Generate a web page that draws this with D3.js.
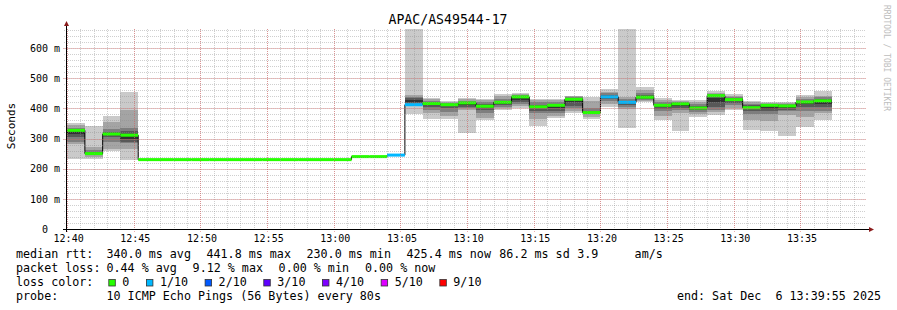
<!DOCTYPE html>
<html><head><meta charset="utf-8">
<script src="https://cdn.jsdelivr.net/npm/d3@7"></script>
<style>
body{margin:0;background:#fff}
svg{display:block}
text{font-family:"DejaVu Sans Mono",monospace;white-space:pre;fill:#000}
</style>
</head><body>
<svg id="chart" width="897" height="310"></svg>
<script>
// ---------------- data ----------------
const title = "APAC/AS49544-17";
const rangeStart = "12:39:55";
const rangeEnd = "13:39:55";
const stepSeconds = 80;
const barStarts = ["12:38:40","12:40:00","12:41:20","12:42:40","12:44:00","12:45:20","12:46:40","12:48:00",
  "12:49:20","12:50:40","12:52:00","12:53:20","12:54:40","12:56:00","12:57:20","12:58:40","13:00:00",
  "13:01:20","13:02:40","13:04:00","13:05:20","13:06:40","13:08:00","13:09:20","13:10:40","13:12:00",
  "13:13:20","13:14:40","13:16:00","13:17:20","13:18:40","13:20:00","13:21:20","13:22:40","13:24:00",
  "13:25:20","13:26:40","13:28:00","13:29:20","13:30:40","13:32:00","13:33:20","13:34:40","13:36:00"];
const medians = [317, 327, 250, 315, 311,
  230, 230, 230, 230, 230, 230, 230, 230, 230, 230, 230, 230,
  240, 240, 245,
  412, 416, 412, 418, 407, 420, 438, 405, 410, 430, 386, 438, 420, 437, 410, 415, 401, 442, 429, 402, 410, 408, 421, 425];
const lostPings = [0, 0, 0, 0, 0,
  0, 0, 0, 0, 0, 0, 0, 0, 0, 0, 0, 0,
  0, 0, 1,
  1, 0, 0, 0, 0, 0, 0, 0, 0, 0, 0, 1, 1, 0, 0, 0, 0, 0, 0, 0, 0, 0, 0, 0];
const pings = [
  [300,308,312,315,317,318,322,328,338,348],
  [233,283,290,305,315,327,330,335,344,352],
  [233,239,245,248,250,251,255,262,272,342],
  [258,266,290,305,313,316,322,333,355,374],
  [229,266,285,290,300,311,325,335,394,455],
  null, null, null, null, null, null, null, null, null, null, null, null,
  null, null, null,
  [380,410,415,418,420,428,433,436,443,760],
  [366,383,395,405,410,416,420,425,430,433],
  [364,375,388,400,408,413,415,418,422,425],
  [319,393,400,405,410,418,420,425,430,433],
  [361,368,385,395,403,408,413,420,428,432],
  [393,400,405,410,415,420,425,432,440,446],
  [401,408,415,420,428,436,440,444,448,452],
  [342,366,383,392,400,405,412,420,428,432],
  [368,375,385,392,400,410,415,422,428,432],
  [383,390,400,408,420,430,433,436,440,442],
  [363,372,380,383,385,388,392,400,425,438],
  [405,415,425,432,436,440,445,450,455,463],
  [336,398,405,412,418,420,425,432,438,760],
  [420,424,428,432,435,438,445,452,460,471],
  [360,375,390,398,405,410,415,420,428,434],
  [325,386,395,402,408,414,418,422,425,428],
  [370,380,388,395,400,402,408,415,420,427],
  [378,388,395,405,420,435,442,446,450,458],
  [394,400,410,418,425,430,433,437,442,447],
  [327,361,380,392,398,403,410,415,420,425],
  [326,358,380,390,398,408,412,415,418,422],
  [307,378,390,396,402,407,411,414,417,420],
  [339,372,392,405,413,420,425,432,438,444],
  [360,383,392,405,415,425,430,436,441,457]
];
const yMax = 663;
const yTicks = [0, 100, 200, 300, 400, 500, 600];
const yTickLabels = ["0  ", "100 m", "200 m", "300 m", "400 m", "500 m", "600 m"];
const xTickLabels = ["12:40","12:45","12:50","12:55","13:00","13:05","13:10","13:15","13:20","13:25","13:30","13:35"];
const yLabel = "Seconds";
const lossLegend = ["0", "1/10", "2/10", "3/10", "4/10", "5/10", "9/10"];
const lossColors = ["#26ff00", "#00b8ff", "#0059ff", "#5e00ff", "#7e00ff", "#dd00ff", "#ff0000"];
const rttStats = ["340.0 ms avg", "441.8 ms max", "230.0 ms min", "425.4 ms now", "86.2 ms sd", "3.9", "am/s"];
const lossStats = ["0.44 % avg", "9.12 % max", "0.00 % min", "0.00 % now"];
const probeText = "10 ICMP Echo Pings (56 Bytes) every 80s";
const endText = "end: Sat Dec  6 13:39:55 2025";
const watermark = "RRDTOOL / TOBI OETIKER";

// ---------------- layout ----------------
const svg = d3.select("#chart");
const parse = d3.timeParse("%H:%M:%S");
const plot = {left: 66, right: 866, top: 29, bottom: 229};
const x = d3.scaleTime().domain([parse(rangeStart), parse(rangeEnd)]).range([plot.left, plot.right]);
const y = d3.scaleLinear().domain([0, yMax]).range([plot.bottom, plot.top]);
const smokeGrays = ["#cacaca", "#a4a4a4", "#7e7e7e", "#585858", "#323232"];

svg.append("rect").attr("width", 897).attr("height", 310).attr("fill", "#fff");

svg.append("defs").append("clipPath").attr("id", "clip")
  .append("rect").attr("x", plot.left).attr("y", plot.top)
  .attr("width", plot.right - plot.left).attr("height", plot.bottom - plot.top);

const bars = barStarts.map((s, i) => {
  const t0 = parse(s);
  const t1 = new Date(t0.getTime() + stepSeconds * 1000);
  return {t0, t1, median: medians[i], loss: lostPings[i], pings: pings[i]};
});

const g = svg.append("g").attr("clip-path", "url(#clip)");

// smoke
bars.forEach(b => {
  if (!b.pings) return;
  const p = b.pings, n = p.length;
  for (let k = 0; k < n / 2; k++) {
    const lo = p[k], hi = p[n - 1 - k];
    g.append("rect")
      .attr("x", x(b.t0)).attr("width", x(b.t1) - x(b.t0))
      .attr("y", y(hi)).attr("height", Math.max(0, y(lo) - y(hi)))
      .attr("fill", smokeGrays[k]).attr("shape-rendering", "crispEdges");
  }
});

// median connecting line
const stepPts = bars.map(b => [b.t0, b.median]);
stepPts.push([bars[bars.length - 1].t1, bars[bars.length - 1].median]);
g.append("path")
  .attr("d", d3.line().x(d => x(d[0])).y(d => y(d[1])).curve(d3.curveStepAfter)(stepPts))
  .attr("fill", "none").attr("stroke", "#000").attr("stroke-width", 1);

// median bands coloured by loss
g.selectAll("rect.med").data(bars).join("rect").attr("class", "med")
  .attr("x", d => x(d.t0)).attr("width", d => x(d.t1) - x(d.t0))
  .attr("y", d => y(d.median) - 1.5).attr("height", 3)
  .attr("fill", d => lossColors[d.loss]);

// grid (drawn above data, as rrdtool does)
const grid = svg.append("g");
const minorMinutes = d3.timeMinute.range(parse("12:40:00"), parse(rangeEnd));
const majorTimes = xTickLabels.map(l => parse(l + ":00"));
grid.selectAll("line.vmin").data(minorMinutes).join("line")
  .attr("x1", d => Math.round(x(d)) + 0.5).attr("x2", d => Math.round(x(d)) + 0.5)
  .attr("y1", plot.top).attr("y2", plot.bottom + 2)
  .attr("stroke", "rgba(140,140,140,0.42)").attr("stroke-dasharray", "1,1");
const minorY = d3.range(20, yMax, 20);
grid.selectAll("line.hmin").data(minorY).join("line")
  .attr("x1", plot.left - 2).attr("x2", plot.right)
  .attr("y1", d => Math.round(y(d)) + 0.5).attr("y2", d => Math.round(y(d)) + 0.5)
  .attr("stroke", "rgba(140,140,140,0.42)").attr("stroke-dasharray", "1,1");
grid.selectAll("line.vmaj").data(majorTimes).join("line")
  .attr("x1", d => Math.round(x(d)) + 0.5).attr("x2", d => Math.round(x(d)) + 0.5)
  .attr("y1", plot.top).attr("y2", plot.bottom + 3)
  .attr("stroke", "rgba(228,90,90,0.5)").attr("stroke-dasharray", "1,1");
grid.selectAll("line.hmaj").data(yTicks.filter(v => v > 0)).join("line")
  .attr("x1", plot.left - 3).attr("x2", plot.right)
  .attr("y1", d => Math.round(y(d)) + 0.5).attr("y2", d => Math.round(y(d)) + 0.5)
  .attr("stroke", "rgba(228,90,90,0.5)").attr("stroke-dasharray", "1,1");

// axes lines + arrows
const arrowCol = "#8b1c1c";
svg.append("line").attr("x1", plot.left - 3).attr("x2", plot.right + 3)
  .attr("y1", plot.bottom + 0.5).attr("y2", plot.bottom + 0.5).attr("stroke", "#000");
svg.append("line").attr("x1", plot.left + 0.5).attr("x2", plot.left + 0.5)
  .attr("y1", plot.bottom + 3).attr("y2", plot.top - 3).attr("stroke", "#000");
svg.append("path").attr("d", `M${plot.left - 2},${plot.top - 3} L${plot.left + 3},${plot.top - 3} L${plot.left + 0.5},${plot.top - 8} Z`).attr("fill", arrowCol);
svg.append("path").attr("d", `M${plot.right + 3},${plot.bottom - 2} L${plot.right + 3},${plot.bottom + 3} L${plot.right + 8},${plot.bottom + 0.5} Z`).attr("fill", arrowCol);

// axis labels via d3 axes
const yAxis = d3.axisLeft(y).tickValues(yTicks).tickFormat((d, i) => yTickLabels[i]).tickSize(0).tickPadding(6);
const ya = svg.append("g").attr("transform", `translate(${plot.left},0)`).call(yAxis);
ya.select(".domain").remove();
ya.selectAll("text").attr("font-size", "10px").attr("font-family", "DejaVu Sans Mono").attr("fill", "#000");

const xAxis = d3.axisBottom(x).tickValues(majorTimes).tickFormat((d, i) => xTickLabels[i]).tickSize(0).tickPadding(5.5);
const xa = svg.append("g").attr("transform", `translate(1,${plot.bottom})`).call(xAxis);
xa.select(".domain").remove();
xa.selectAll("text").attr("font-size", "10px").attr("font-family", "DejaVu Sans Mono").attr("fill", "#000");

// title, y label, watermark
svg.append("text").attr("x", 448).attr("y", 24).attr("text-anchor", "middle")
  .attr("font-size", "13.2px").text(title);
svg.append("text").attr("transform", "translate(15,126) rotate(-90)").attr("text-anchor", "middle")
  .attr("font-size", "11px").text(yLabel);
svg.append("text").attr("transform", "translate(884,5) rotate(90)")
  .attr("font-size", "8px").style("fill", "#bdbdbd").text(watermark);

// legend
const fs = "11.7px";
const lineY = [258, 272, 286, 300];
const leg = svg.append("g").attr("font-size", fs);
leg.append("text").attr("x", 16).attr("y", lineY[0]).text("median rtt:");
const rttX = [106.5, 206.5, 306.5, 406.5, 499.3, 577.3, 634.6];
rttStats.forEach((s, i) => leg.append("text").attr("x", rttX[i]).attr("y", lineY[0]).text(s));
leg.append("text").attr("x", 16).attr("y", lineY[1]).text("packet loss:");
const lossX = [106.5, 192.6, 278.6, 365];
lossStats.forEach((s, i) => leg.append("text").attr("x", lossX[i]).attr("y", lineY[1]).text(s));
leg.append("text").attr("x", 16).attr("y", lineY[2]).text("loss color:");
let bx = 108.3;
lossLegend.forEach((lab, i) => {
  leg.append("rect").attr("x", bx + 0.5).attr("y", lineY[2] - 6.5).attr("width", 6.5).attr("height", 6.5)
    .attr("fill", lossColors[i]).attr("stroke", "#333").attr("stroke-width", 0.8);
  leg.append("text").attr("x", bx + 14).attr("y", lineY[2]).text(lab);
  bx += 14.5 + lab.length * 7.02 + 16.1;
});
leg.append("text").attr("x", 16).attr("y", lineY[3]).text("probe:");
leg.append("text").attr("x", 106.5).attr("y", lineY[3]).text(probeText);
leg.append("text").attr("x", 881).attr("y", lineY[3]).attr("text-anchor", "end").text(endText);
</script>
</body></html>
